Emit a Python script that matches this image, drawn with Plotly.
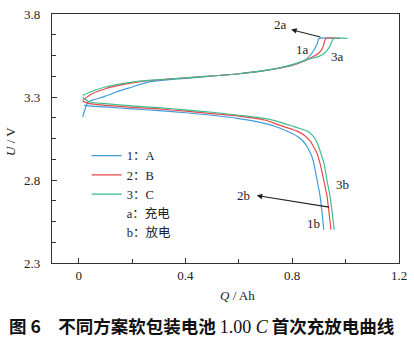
import plotly.graph_objects as go

# ---- data ----
names = ["1：A", "2：B", "3：C"]
colors = ["#3f9ddb", "#e9484d", "#3dbd8c"]

charge_q = [
    [0.015, 0.035, 0.06, 0.10, 0.15, 0.20, 0.26, 0.35, 0.474, 0.60, 0.70, 0.80, 0.85, 0.874, 0.893, 0.900, 0.960],
    [0.015, 0.05, 0.10, 0.15, 0.20, 0.26, 0.35, 0.474, 0.60, 0.70, 0.80, 0.85, 0.88, 0.90, 0.915, 0.926, 0.980],
    [0.015, 0.05, 0.10, 0.14, 0.20, 0.26, 0.35, 0.474, 0.60, 0.70, 0.79, 0.856, 0.90, 0.918, 0.937, 0.956, 1.007],
]
charge_u = [
    [3.18, 3.27, 3.285, 3.305, 3.335, 3.36, 3.39, 3.406, 3.422, 3.44, 3.46, 3.495, 3.525, 3.565, 3.618, 3.653, 3.653],
    [3.28, 3.32, 3.35, 3.37, 3.385, 3.398, 3.41, 3.424, 3.44, 3.46, 3.49, 3.52, 3.545, 3.565, 3.60, 3.653, 3.653],
    [3.31, 3.335, 3.36, 3.375, 3.39, 3.40, 3.41, 3.424, 3.44, 3.46, 3.488, 3.525, 3.545, 3.56, 3.594, 3.653, 3.653],
]

discharge_q = [
    [0.02, 0.05, 0.10, 0.20, 0.30, 0.40, 0.50, 0.60, 0.70, 0.75, 0.80, 0.82, 0.84, 0.856, 0.874, 0.881, 0.893, 0.904, 0.912, 0.918],
    [0.015, 0.04, 0.10, 0.20, 0.30, 0.40, 0.50, 0.60, 0.70, 0.744, 0.80, 0.82, 0.845, 0.867, 0.88, 0.893, 0.904, 0.918, 0.930, 0.938, 0.945],
    [0.015, 0.04, 0.10, 0.20, 0.30, 0.40, 0.50, 0.60, 0.70, 0.744, 0.80, 0.82, 0.856, 0.881, 0.895, 0.904, 0.919, 0.930, 0.941, 0.950, 0.957],
]
discharge_u = [
    [3.25, 3.245, 3.24, 3.228, 3.218, 3.205, 3.19, 3.17, 3.14, 3.115, 3.08, 3.062, 3.035, 3.0, 2.94, 2.90, 2.80, 2.706, 2.60, 2.50],
    [3.275, 3.26, 3.25, 3.238, 3.228, 3.215, 3.20, 3.185, 3.16, 3.135, 3.105, 3.093, 3.07, 3.035, 3.0, 2.96, 2.90, 2.80, 2.706, 2.60, 2.50],
    [3.30, 3.27, 3.26, 3.246, 3.236, 3.222, 3.208, 3.19, 3.17, 3.153, 3.125, 3.115, 3.095, 3.06, 3.02, 2.976, 2.90, 2.80, 2.706, 2.60, 2.50],
]

x_ticks = [0, 0.4, 0.8, 1.2]
x_ticktext = ["0", "0.4", "0.8", "1.2"]
x_minor = [0.2, 0.6, 1.0]
y_ticks = [2.3, 2.8, 3.3, 3.8]
y_ticktext = ["2.3", "2.8", "3.3", "3.8"]
y_minor = [2.425, 2.55, 2.675, 2.925, 3.05, 3.175, 3.425, 3.55, 3.675]

serif = "Liberation Serif, Times New Roman, serif"
cjk = "Liberation Serif, Noto Sans CJK SC, serif"

fig = go.Figure()
for i in range(3):
    fig.add_trace(go.Scatter(x=charge_q[i], y=charge_u[i], mode="lines", name=names[i],
                             line=dict(color=colors[i], width=1.2, shape="spline", smoothing=0.6),
                             legendgroup=str(i), showlegend=True))
for i in range(3):
    fig.add_trace(go.Scatter(x=discharge_q[i], y=discharge_u[i], mode="lines", name=names[i],
                             line=dict(color=colors[i], width=1.2, shape="spline", smoothing=0.6),
                             legendgroup=str(i), showlegend=False))
for lab in ["a：充电", "b：放电"]:
    fig.add_trace(go.Scatter(x=[None], y=[None], mode="lines", name=lab,
                             line=dict(color="rgba(0,0,0,0)", width=0)))

# annotation arrows and curve labels
ann = []
ann.append(dict(x=0.796, y=3.706, ax=0.911, ay=3.659, xref="x", yref="y", axref="x", ayref="y",
                text="", showarrow=True, arrowhead=2, arrowsize=1, arrowwidth=1.1, arrowcolor="#222"))
ann.append(dict(x=0.667, y=2.706, ax=0.944, ay=2.635, xref="x", yref="y", axref="x", ayref="y",
                text="", showarrow=True, arrowhead=2, arrowsize=1, arrowwidth=1.1, arrowcolor="#222"))
for txt, qx, uy in [("2a", 0.755, 3.735), ("1a", 0.84, 3.588), ("3a", 0.97, 3.545),
                    ("2b", 0.618, 2.706), ("3b", 0.99, 2.771), ("1b", 0.878, 2.535)]:
    ann.append(dict(x=qx, y=uy, xref="x", yref="y", text=txt, showarrow=False,
                    font=dict(family=serif, size=13, color="#222")))
# axis titles
ann.append(dict(x=240, y=296, text="<i>Q</i> / Ah", showarrow=False,
                font=dict(family=serif, size=13, color="#222")))
ann.append(dict(x=10, y=138, text="<i>U</i> / V", showarrow=False, textangle=-90,
                font=dict(family=serif, size=13, color="#222")))
# caption
ann.append(dict(x=204, y=327,
                text="<b>图 6　不同方案软包装电池</b> "
                     "<span style=\"font-family:Liberation Serif, serif;font-size:18px\">1.00 <i>C</i></span>"
                     " <b>首次充放电曲线</b>",
                showarrow=False,
                font=dict(family="Noto Sans CJK SC, sans-serif", size=17.5, color="#111")))

W, H = 414, 337
L, R, T, B = 52, 10, 7, 74
pw, ph = W - L - R, H - T - B
for a in ann[-3:]:
    a["xref"] = "paper"; a["yref"] = "paper"
    a["x"] = (a["x"] - L) / pw
    a["y"] = (H - B - a["y"]) / ph
    a["xanchor"] = "center"; a["yanchor"] = "middle"

fig.update_layout(
    width=W, height=H, margin=dict(l=L, r=R, t=T, b=B),
    paper_bgcolor="white", plot_bgcolor="white",
    showlegend=True,
    legend=dict(x=0.1, y=0.49, xanchor="left", yanchor="top", bgcolor="rgba(0,0,0,0)",
                font=dict(family=cjk, size=12.5, color="#222"), tracegroupgap=0, itemwidth=30),
    annotations=ann,
    xaxis=dict(range=[-0.1, 1.2], tickvals=x_ticks, ticktext=x_ticktext,
               ticks="inside", ticklen=5, tickcolor="#333", showline=True, linecolor="#333", linewidth=1.2,
               mirror=True, showgrid=False, zeroline=False,
               minor=dict(tickvals=x_minor, ticks="inside", ticklen=4, tickcolor="#333"),
               tickfont=dict(family=serif, size=13, color="#222")),
    yaxis=dict(range=[2.3, 3.8], tickvals=y_ticks, ticktext=y_ticktext,
               ticks="inside", ticklen=5, tickcolor="#333", showline=True, linecolor="#333", linewidth=1.2,
               mirror=True, showgrid=False, zeroline=False,
               minor=dict(tickvals=y_minor, ticks="inside", ticklen=4, tickcolor="#333"),
               tickfont=dict(family=serif, size=13, color="#222"), ticklabelstandoff=8),
)

fig.write_html("out.html")
